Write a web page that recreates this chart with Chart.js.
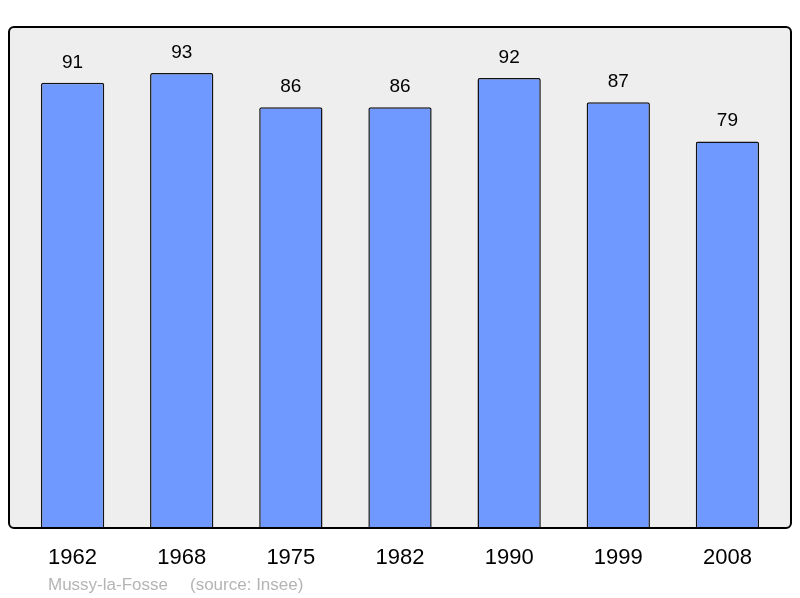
<!DOCTYPE html>
<html>
<head>
<meta charset="utf-8">
<script src="https://cdn.jsdelivr.net/npm/chart.js@4"></script>
<style>
  body { margin: 0; background: #ffffff; }
  #wrap { width: 800px; height: 598px; }
</style>
</head>
<body>
<div id="wrap"><canvas id="pop-chart" width="800" height="598"></canvas></div>
<script>
// Population de Mussy-la-Fosse (source : Insee)
const YEARS = ["1962", "1968", "1975", "1982", "1990", "1999", "2008"];
const POPULATION = [91, 93, 86, 86, 92, 87, 79];
const FOOTER_TOWN = "Mussy-la-Fosse";
const FOOTER_SOURCE = "(source: Insee)";

const BAR_COLOR = "#7099ff";
const FONT = "'Liberation Sans', Arial, sans-serif";

// fond gris arrondi derrière les barres, cadre noir par-dessus
const frame = {
  id: "frame",
  beforeDatasetsDraw(chart) {
    const { ctx, chartArea: a } = chart;
    ctx.save();
    ctx.fillStyle = "#eeeeee";
    ctx.beginPath();
    ctx.roundRect(a.left - 9, a.top, a.width + 18, a.height, 5);
    ctx.fill();
    ctx.restore();
  },
  afterDatasetsDraw(chart) {
    const { ctx, chartArea: a } = chart;
    ctx.save();
    // valeurs au-dessus des barres
    ctx.fillStyle = "#000000";
    ctx.font = "19px " + FONT;
    ctx.textAlign = "center";
    ctx.textBaseline = "alphabetic";
    chart.getDatasetMeta(0).data.forEach((bar, i) => {
      ctx.fillText(String(POPULATION[i]), bar.x, bar.y - 15);
    });
    ctx.strokeStyle = "#000000";
    ctx.lineWidth = 2;
    ctx.beginPath();
    ctx.roundRect(a.left - 9, a.top, a.width + 18, a.height, 5);
    ctx.stroke();
    ctx.restore();
  },
  afterDraw(chart) {
    const { ctx } = chart;
    ctx.save();
    ctx.fillStyle = "#b4b4b4";
    ctx.font = "17px " + FONT;
    ctx.textBaseline = "alphabetic";
    ctx.fillText(FOOTER_TOWN, 48, 590);
    ctx.fillText(FOOTER_SOURCE, 190, 590);
    ctx.restore();
  },
};

new Chart(document.getElementById("pop-chart").getContext("2d"), {
  type: "bar",
  data: {
    labels: YEARS,
    datasets: [
      {
        data: POPULATION,
        backgroundColor: BAR_COLOR,
        borderColor: "#111111",
        borderWidth: 1.5,
        borderSkipped: "bottom",
        borderRadius: 2,
        barPercentage: 0.58,
        categoryPercentage: 1,
      },
    ],
  },
  options: {
    responsive: false,
    animation: false,
    devicePixelRatio: 1,
    layout: { padding: { left: 18, right: 18, top: 27, bottom: 0 } },
    plugins: {
      legend: { display: false },
      tooltip: { enabled: false },
    },
    scales: {
      x: {
        grid: { display: false, drawTicks: false },
        border: { display: false },
        ticks: {
          color: "#000000",
          font: { size: 22, family: FONT },
          padding: 17,
          maxRotation: 0,
        },
        afterFit: (s) => { s.height = 70; },
      },
      y: {
        display: false,
        min: 0,
        max: 102.4,
      },
    },
  },
  plugins: [frame],
});
</script>
</body>
</html>
